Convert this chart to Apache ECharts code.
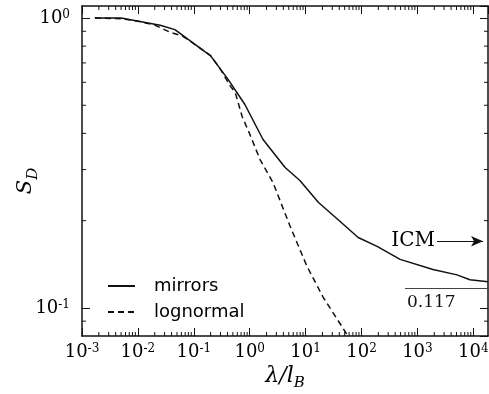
<!DOCTYPE html>
<html><head><meta charset="utf-8">
<script src="https://cdn.jsdelivr.net/npm/echarts@6/dist/echarts.min.js"></script>
<style>html,body{margin:0;padding:0;background:#fff}#c{width:489px;height:394px}</style>
</head><body><div id="c"></div>
<script>
// ---- data ----
const mirrorsX = [0.0017, 0.005, 0.025, 0.046, 0.2, 0.41, 0.82, 1.73, 4.3, 7.9, 17, 41, 87, 190, 490, 1900, 5100, 8700, 18300];
const mirrorsY = [1.0, 1.0, 0.944, 0.912, 0.74, 0.614, 0.503, 0.381, 0.305, 0.275, 0.231, 0.199, 0.175, 0.163, 0.147, 0.1356, 0.130, 0.125, 0.123];
const lognormalX = [0.0017, 0.005, 0.01, 0.02, 0.038, 0.064, 0.1, 0.2, 0.3, 0.45, 0.55, 0.73, 1.0, 1.53, 2.6, 5.3, 10.6, 20.5, 45, 57];
const lognormalY = [1.0, 0.995, 0.975, 0.945, 0.892, 0.865, 0.815, 0.742, 0.665, 0.582, 0.554, 0.458, 0.398, 0.325, 0.271, 0.191, 0.139, 0.109, 0.086, 0.080];
const seriesNames = ['mirrors', 'lognormal'];
const xTickExponents = [-3, -2, -1, 0, 1, 2, 3, 4];
const yTickExponents = [-1, 0];
const icmLevel = 0.117;
const icmLabel = 'ICM';
const X_MIN = 0.001, X_MAX = 18300, Y_MIN = 0.08, Y_MAX = 1.1;

const SERIF = 'DejaVu Serif';
const SANS = 'DejaVu Sans';
const INK = '#111';

function pairs(xs, ys) { return xs.map((x, i) => [x, ys[i]]); }
function decadeLabel(v, exps) {
  const e = Math.round(Math.log10(v));
  if (Math.abs(Math.log10(v) - e) > 1e-6 || exps.indexOf(e) < 0) return '';
  return '{b|10}{s|' + e + '}';
}
const labelRich = {
  b: { fontFamily: SERIF, fontSize: 18, color: '#000' },
  s: { fontFamily: SERIF, fontSize: 12, color: '#000', verticalAlign: 'top', padding: [0, 0, 6, 0] }
};

// minor tick positions (2..9 per decade)
const xMinor = [], yMinor = [];
for (let d = -3; d <= 4; d++) for (let m = 2; m <= 9; m++) { const v = m * Math.pow(10, d); if (v < X_MAX) xMinor.push(v); }
for (let d = -2; d <= 0; d++) for (let m = 2; m <= 9; m++) { const v = m * Math.pow(10, d); if (v > Y_MIN && v < Y_MAX) yMinor.push(v); }

const MINOR_LEN = 4, MAJOR_LEN = 8;
function minorTicks(axis, values) {
  return {
    type: 'custom', silent: true, clip: false, z: 5, animation: false,
    data: values.map(v => axis === 'x' ? [v, Y_MIN] : [X_MIN, v]),
    renderItem(params, api) {
      const st = { stroke: INK, lineWidth: 1 };
      if (axis === 'x') {
        const v = api.value(0);
        const a = api.coord([v, Y_MIN]), b = api.coord([v, Y_MAX]);
        return { type: 'group', children: [
          { type: 'line', shape: { x1: a[0], y1: a[1], x2: a[0], y2: a[1] - MINOR_LEN }, style: st },
          { type: 'line', shape: { x1: b[0], y1: b[1], x2: b[0], y2: b[1] + MINOR_LEN }, style: st }
        ] };
      } else {
        const v = api.value(1);
        const a = api.coord([X_MIN, v]), b = api.coord([X_MAX, v]);
        return { type: 'group', children: [
          { type: 'line', shape: { x1: a[0], y1: a[1], x2: a[0] + MINOR_LEN, y2: a[1] }, style: st },
          { type: 'line', shape: { x1: b[0], y1: b[1], x2: b[0] - MINOR_LEN, y2: b[1] }, style: st }
        ] };
      }
    }
  };
}

function baseAxis(extra) {
  return Object.assign({
    type: 'log', logBase: 10, nameMoveOverlap: false,
    axisLine: { show: true, onZero: false, lineStyle: { color: INK, width: 1.5 } },
    axisTick: { show: true, inside: true, length: MAJOR_LEN, lineStyle: { color: INK, width: 1 } },
    splitLine: { show: false }
  }, extra);
}

const chart = echarts.init(document.getElementById('c'), null, { renderer: 'canvas' });
chart.setOption({
  animation: false,
  backgroundColor: '#fff',
  grid: { left: 82, right: 1, top: 6, bottom: 58, containLabel: false, outerBoundsMode: 'none' },
  legend: {
    data: seriesNames, orient: 'vertical', left: 102, top: 272,
    itemWidth: 27, itemHeight: 12, itemGap: 8,
    itemStyle: { opacity: 0 },
    textStyle: { fontFamily: SANS, fontSize: 18, color: '#000', padding: [0, 0, 0, 14] }
  },
  xAxis: [
    baseAxis({ position: 'bottom', min: X_MIN, max: X_MAX, splitNumber: 7,
      name: '{i|λ/l}{sub|B}', nameLocation: 'middle', nameGap: 29,
      nameTextStyle: { rich: {
        i: { fontFamily: SERIF, fontStyle: 'italic', fontSize: 22, color: '#000' },
        sub: { fontFamily: SERIF, fontStyle: 'italic', fontSize: 15, color: '#000', verticalAlign: 'bottom', padding: [0, 0, -4, 0] }
      } },
      axisLabel: { show: true, margin: 7, showMinLabel: true, showMaxLabel: false,
        formatter: v => decadeLabel(v, xTickExponents), rich: labelRich } }),
    baseAxis({ position: 'top', min: X_MIN, max: X_MAX, splitNumber: 7, axisLabel: { show: false } })
  ],
  yAxis: [
    baseAxis({ position: 'left', min: Y_MIN, max: Y_MAX, splitNumber: 1,
      name: '{i|S}{sub|D}', nameLocation: 'middle', nameGap: 46, nameRotate: 90,
      nameTextStyle: { padding: [0, 20, 0, 0], rich: {
        i: { fontFamily: SERIF, fontStyle: 'italic', fontSize: 21, color: '#000' },
        sub: { fontFamily: SERIF, fontStyle: 'italic', fontSize: 15, color: '#000', verticalAlign: 'bottom', padding: [0, 0, -5, 0] }
      } },
      axisLabel: { show: true, margin: 12, showMinLabel: false, showMaxLabel: false,
        formatter: v => decadeLabel(v, yTickExponents), rich: labelRich } }),
    baseAxis({ position: 'right', min: Y_MIN, max: Y_MAX, splitNumber: 1, axisLabel: { show: false } })
  ],
  series: [
    {
      name: seriesNames[0], type: 'line', xAxisIndex: 0, yAxisIndex: 0,
      data: pairs(mirrorsX, mirrorsY), symbol: 'none', smooth: false,
      lineStyle: { color: INK, width: 1.5, type: 'solid' }, itemStyle: { color: INK },
      markLine: {
        silent: true, animation: false,
        data: [
          [ { coord: [600, icmLevel], symbol: 'none',
              lineStyle: { color: '#444', width: 1, type: 'solid' },
              label: { show: true, position: 'insideStartBottom', formatter: String(icmLevel), distance: [2, 6],
                fontFamily: SERIF, fontSize: 17, color: '#111' } },
            { coord: [X_MAX, icmLevel], symbol: 'none' } ],
          [ { coord: [2244, 0.1698], symbol: 'none',
              lineStyle: { color: INK, width: 1.2, type: 'solid' },
              label: { show: true, position: 'start', formatter: icmLabel, distance: 2,
                fontFamily: SERIF, fontSize: 20, color: '#000' } },
            { coord: [14900, 0.1698], symbol: 'arrow', symbolSize: [8, 12] } ]
        ]
      }
    },
    {
      name: seriesNames[1], type: 'line', xAxisIndex: 0, yAxisIndex: 0,
      data: pairs(lognormalX, lognormalY), symbol: 'none', smooth: false,
      lineStyle: { color: INK, width: 1.5, type: [6, 4] }, itemStyle: { color: INK }
    },
    minorTicks('x', xMinor),
    minorTicks('y', yMinor)
  ]
});
</script></body></html>
